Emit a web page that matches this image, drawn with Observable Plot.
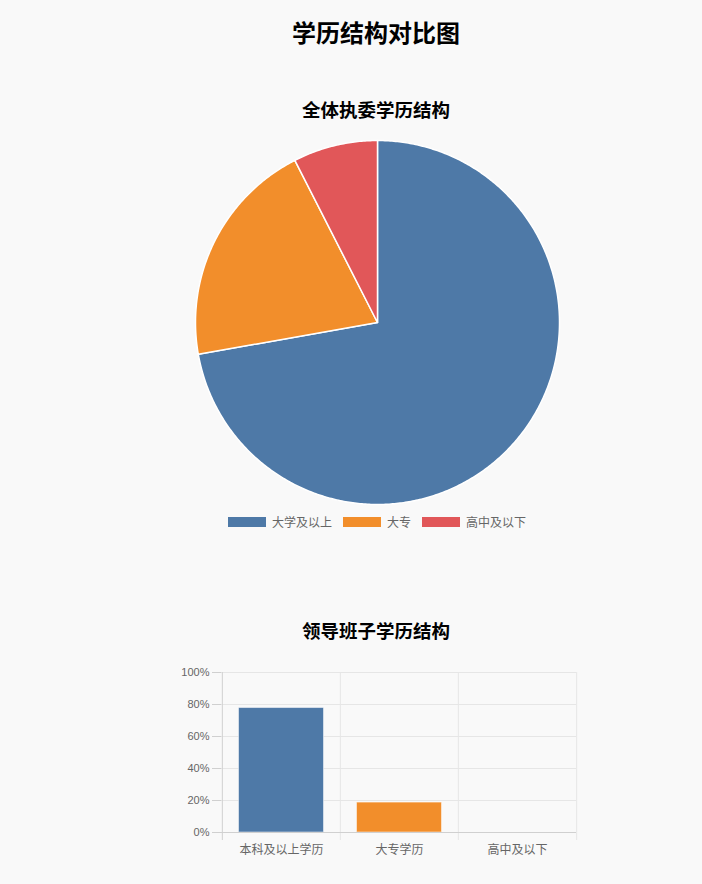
<!DOCTYPE html>
<html><head><meta charset="utf-8">
<script src="https://cdn.jsdelivr.net/npm/d3@7"></script>
<script src="https://cdn.jsdelivr.net/npm/@observablehq/plot@0.6"></script>
<style>
html,body{margin:0;padding:0;background:#f9f9f9;}
body{width:702px;height:884px;position:relative;overflow:hidden;font-family:"Liberation Sans","Noto Sans CJK SC",sans-serif;}
.t{position:absolute;left:0;width:752px;text-align:center;font-weight:bold;color:#000;font-family:"Noto Sans CJK SC",sans-serif;line-height:1;}
#legend{position:absolute;left:0;width:754px;top:515px;display:flex;justify-content:center;align-items:center;font-size:12px;color:#666;font-family:"Noto Sans CJK SC",sans-serif;line-height:14px;}
#legend .sw{width:38px;height:10px;margin-right:6px;}
#legend .it{display:flex;align-items:center;margin:0 5.5px;}
svg{position:absolute;}
</style></head>
<body>
<div class="t" style="top:20px;font-size:24px;">学历结构对比图</div>
<div class="t" style="top:100px;font-size:18.5px;">全体执委学历结构</div>
<div id="legend"></div>
<div class="t" style="top:621px;font-size:18.5px;">领导班子学历结构</div>
<script>
const pieLabels = ["大学及以上", "大专", "高中及以下"];
const pieValues = [72.2, 20.3, 7.5];
const colors = ["#4e79a7", "#f28e2b", "#e15759"];

const barLabels = ["本科及以上学历", "大专学历", "高中及以下"];
const barValues = [0.778, 0.187, 0];
const yTicks = [0, 0.2, 0.4, 0.6, 0.8, 1];

// ---------- pie ----------
const arcs = d3.pie().sort(null)(pieValues);
const features = arcs.map((a, i) => {
  const ring = [[0, 0]];
  const n = Math.max(2, Math.ceil((a.endAngle - a.startAngle) / 0.01));
  for (let k = 0; k <= n; k++) {
    const t = a.startAngle + (a.endAngle - a.startAngle) * k / n;
    ring.push([Math.sin(t), -Math.cos(t)]);
  }
  ring.push([0, 0]);
  return {type: "Feature", properties: {label: pieLabels[i]}, geometry: {type: "Polygon", coordinates: [ring]}};
});
const R = 185 / 182;
const pie = Plot.plot({
  width: 370, height: 370, margin: 0,
  style: {background: "transparent"},
  projection: {type: "identity", domain: {type: "MultiPoint", coordinates: [[-R, -R], [R, R]]}},
  color: {domain: pieLabels, range: colors},
  marks: [
    Plot.geo(features, {fill: d => d.properties.label, stroke: "#fff", strokeWidth: 1.5})
  ]
});
pie.style.left = "192px";
pie.style.top = "137px";
document.body.appendChild(pie);

// legend
const lg = document.getElementById("legend");
pieLabels.forEach((l, i) => {
  const it = document.createElement("div");
  it.className = "it";
  it.innerHTML = `<div class="sw" style="background:${colors[i]}"></div><span>${l}</span>`;
  lg.appendChild(it);
});

// ---------- bars ----------
const W = 420, ML = 52, MR = 13;
const step = (W - ML - MR) / barLabels.length;
const barData = barLabels.map((l, i) => ({label: l, value: barValues[i]}));
const bar = Plot.plot({
  width: W, height: 200, marginLeft: ML, marginRight: MR, marginTop: 12, marginBottom: 28,
  style: {background: "transparent", fontFamily: "'Liberation Sans','Noto Sans CJK SC',sans-serif"},
  x: {domain: barLabels, padding: 0, axis: null, label: null},
  y: {domain: [0, 1], axis: null, label: null},
  color: {domain: barLabels, range: colors},
  marks: [
    Plot.ruleY(yTicks.slice(1), {stroke: "#e6e6e6"}),
    Plot.ruleX(barLabels, {x: d => d, dx: -step / 2, y1: -0.05, y2: 1, stroke: (d, i) => i === 0 ? "#d0d0d0" : "#e6e6e6"}),
    Plot.ruleX(barLabels.slice(-1), {x: d => d, dx: step / 2, y1: -0.05, y2: 1, stroke: "#e6e6e6"}),
    Plot.barY(barData, {x: "label", y: "value", fill: "label", insetLeft: 16.5, insetRight: 16.5, stroke: "#fff", strokeOpacity: 0.5}),
    Plot.ruleY([0], {stroke: "#d0d0d0"}),
    Plot.axisY({ticks: yTicks, tickFormat: d => Math.round(d * 100) + "%", tickSize: 9, tickPadding: 3, fontSize: 11, stroke: "#d0d0d0", fill: "#666", label: null}),
    Plot.axisX({tickSize: 0, tickPadding: 13, fontSize: 12, fill: "#666", fontFamily: "Noto Sans CJK SC", label: null})
  ]
});
bar.style.left = "169px";
bar.style.top = "660px";
document.body.appendChild(bar);
</script>
</body></html>
